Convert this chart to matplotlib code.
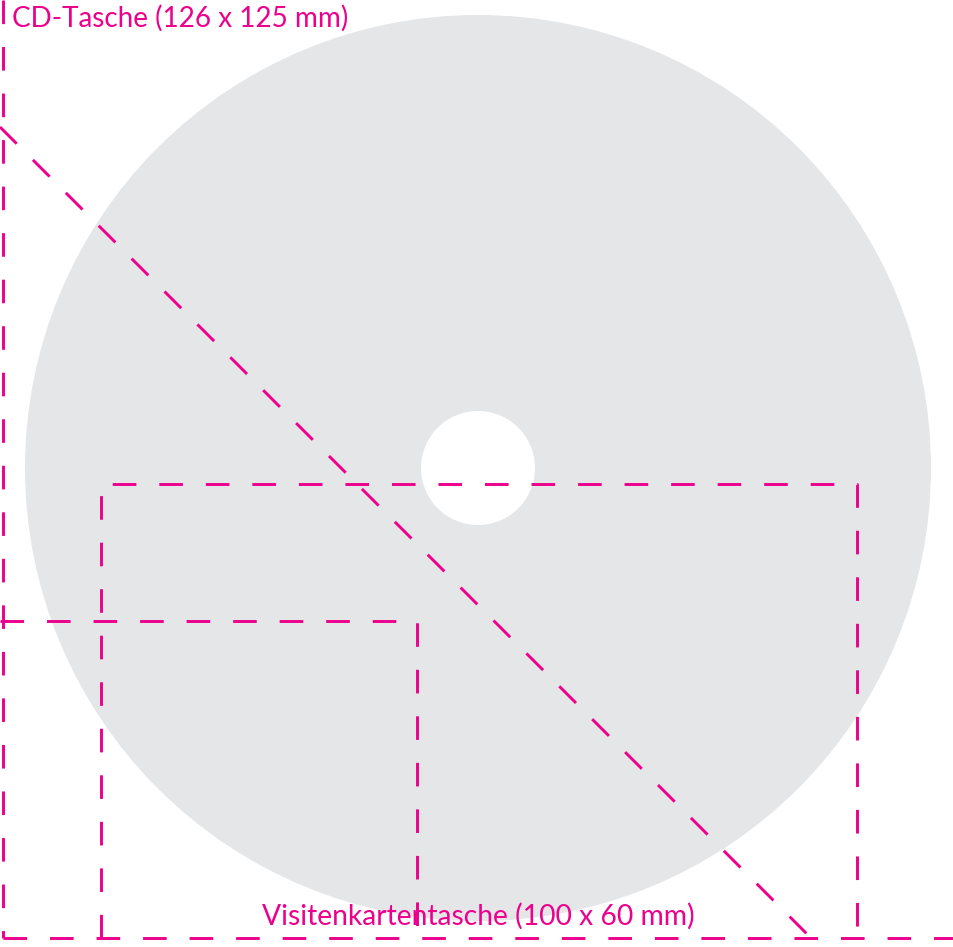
import matplotlib
matplotlib.use("Agg")
import matplotlib.pyplot as plt
from matplotlib.patches import Circle

plt.rcParams['lines.scale_dashes'] = False

# layout of the sketch, in pixel units of the 954x947 canvas
disc_center = (478, 468)
disc_radius = 453
hole_radius = 57

# pockets (x0, y0, x1, y1)
cd_pocket = (3, 0, 954, 938)
card_pocket = (101, 484, 857, 938)
small_pocket = (0, 621, 417, 938)
diagonal = [(0, 127), (820, 947)]

labels = ["CD-Tasche (126 x 125 mm)", "Visitenkartentasche (100 x 60 mm)"]

magenta = "#EC008C"
grey = "#E5E6E8"

fig = plt.figure(figsize=(9.54, 9.47), dpi=100)
ax = fig.add_axes([0, 0, 1, 1])
ax.set_xlim(0, 954)
ax.set_ylim(947, 0)
ax.axis("off")

ax.add_patch(Circle(disc_center, disc_radius, color=grey, lw=0))
ax.add_patch(Circle(disc_center, hole_radius, color="white", lw=0))

dash = dict(color=magenta, lw=2.1, dashes=(17, 16.5))

x0, y0, x1, y1 = cd_pocket
ax.plot([x0, x0], [y0, y1], **dash)
ax.plot([x0, x1], [y1, y1], **dash)

x0, y0, x1, y1 = card_pocket
ax.plot([x0, x0, x1, x1], [y1, y0, y0, y1], **dash)

x0, y0, x1, y1 = small_pocket
ax.plot([x0, x1, x1], [y0, y0, y1], **dash)

ax.plot([p[0] for p in diagonal], [p[1] for p in diagonal], **dash)

ax.text(12, 27, labels[0], color=magenta, fontsize=20.1, family="Lato",
        ha="left", va="baseline")
ax.text(478, 925, labels[1], color=magenta, fontsize=20.3, family="Lato",
        ha="center", va="baseline")

fig.savefig("out.png", dpi=100)
